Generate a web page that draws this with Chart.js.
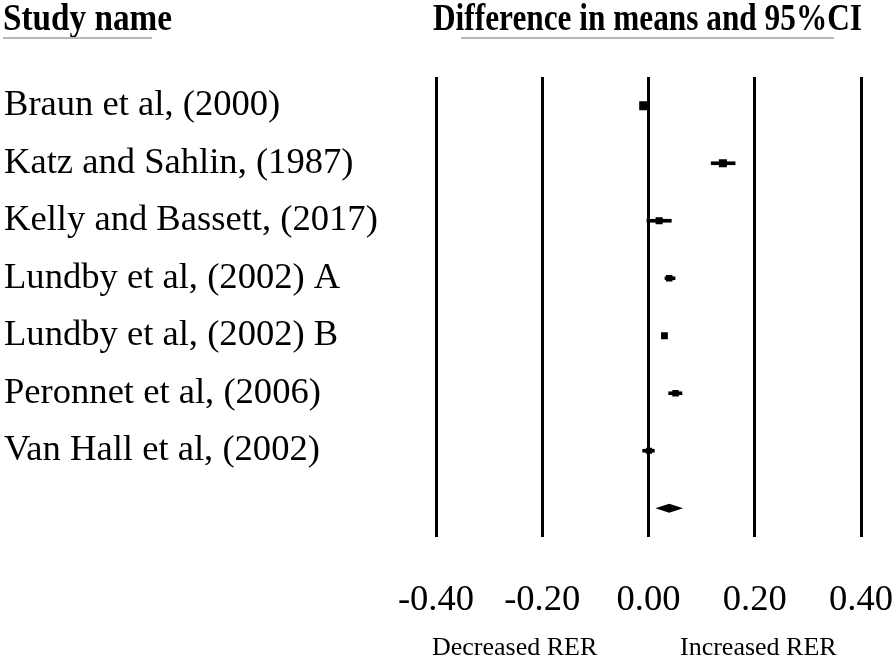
<!DOCTYPE html>
<html>
<head>
<meta charset="utf-8">
<script src="https://cdn.jsdelivr.net/npm/chart.js@4"></script>
<style>
  body { margin: 0; background: #fff; }
</style>
</head>
<body>
<canvas id="forest" width="896" height="662"></canvas>
<script>
"use strict";

// studies and effect sizes (difference in means, 95% CI)
const studies = ['Braun et al, (2000)', 'Katz and Sahlin, (1987)', 'Kelly and Bassett, (2017)',
                 'Lundby et al, (2002) A', 'Lundby et al, (2002) B', 'Peronnet et al, (2006)',
                 'Van Hall et al, (2002)'];
const means   = [-0.009, 0.140, 0.020, 0.039, 0.030, 0.051, 0.001];
const lower   = [-0.015, 0.118, -0.003, 0.031, 0.025, 0.038, -0.011];
const upper   = [-0.003, 0.163, 0.043, 0.050, 0.035, 0.063, 0.011];

// pooled estimate (diamond)
const pooledMean  = 0.039;
const pooledLower = 0.013;
const pooledUpper = 0.065;

const xTicks = [-0.40, -0.20, 0.00, 0.20, 0.40];

const rowLabels = studies.concat(['']);
const serif = '"Liberation Serif", "Times New Roman", serif';

// draws text squeezed to a given width (headings are condensed)
function fitText(ctx, text, x, y, width) {
    const w = ctx.measureText(text).width;
    ctx.save();
    ctx.translate(x, y);
    ctx.scale(width / w, 1);
    ctx.fillText(text, 0, 0);
    ctx.restore();
}

const decorations = {
    id: 'decorations',
    afterDatasetsDraw(chart) {
        const ctx = chart.ctx;
        const xs = chart.scales.x;
        const ys = chart.scales.y;

        // pooled diamond
        const yc = ys.getPixelForValue(studies.length);
        ctx.save();
        ctx.fillStyle = '#000';
        ctx.beginPath();
        ctx.moveTo(xs.getPixelForValue(pooledLower), yc);
        ctx.lineTo(xs.getPixelForValue(pooledMean), yc - 4.5);
        ctx.lineTo(xs.getPixelForValue(pooledUpper), yc);
        ctx.lineTo(xs.getPixelForValue(pooledMean), yc + 4.5);
        ctx.closePath();
        ctx.fill();
        ctx.restore();
    },
    afterDraw(chart) {
        const ctx = chart.ctx;
        ctx.save();
        ctx.fillStyle = '#000';
        ctx.textBaseline = 'alphabetic';
        ctx.textAlign = 'left';

        // headings
        ctx.font = 'bold 37px ' + serif;
        fitText(ctx, 'Study name', 3, 30, 169);
        fitText(ctx, 'Difference in means and 95%CI', 433, 30, 429);

        ctx.strokeStyle = '#b8b8b8';
        ctx.lineWidth = 2;
        ctx.beginPath();
        ctx.moveTo(3, 38);  ctx.lineTo(152, 38);
        ctx.moveTo(461, 38); ctx.lineTo(834, 38);
        ctx.stroke();

        // direction labels under the axis
        ctx.font = '26px ' + serif;
        ctx.fillText('Decreased RER', 432, 655);
        ctx.fillText('Increased RER', 680, 655);
        ctx.restore();
    }
};

new Chart(document.getElementById('forest'), {
    type: 'bar',
    data: {
        labels: rowLabels,
        datasets: [
            {
                // confidence intervals as thin floating bars
                type: 'bar',
                data: lower.map((l, i) => [l, upper[i]]),
                backgroundColor: '#000',
                barThickness: 3,
                borderWidth: 0
            },
            {
                type: 'scatter',
                data: means.map((m, i) => ({ x: m, y: studies[i] })),
                pointStyle: 'rect',
                pointRadius: [6.4, 5.7, 5, 4.6, 4.8, 4.6, 4.4],
                backgroundColor: '#000',
                borderWidth: 0
            }
        ]
    },
    options: {
        indexAxis: 'y',
        responsive: false,
        animation: false,
        events: [],
        layout: { padding: { top: 77, left: 4, right: 35, bottom: 0 } },
        plugins: {
            legend: { display: false },
            tooltip: { enabled: false }
        },
        scales: {
            x: {
                type: 'linear',
                position: 'bottom',
                min: xTicks[0],
                max: xTicks[xTicks.length - 1],
                afterBuildTicks: (scale) => { scale.ticks = xTicks.map(v => ({ value: v })); },
                afterFit: (scale) => {
                    scale.height = 125;
                    scale.paddingLeft = 0;
                    scale.paddingRight = 0;
                },
                grid: { color: '#000', lineWidth: 3, drawTicks: false },
                border: { display: false },
                ticks: {
                    padding: 41,
                    maxRotation: 0,
                    color: '#000',
                    font: { family: serif, size: 36.6 },
                    callback: (v) => (Math.abs(v) < 1e-9 ? 0 : v).toFixed(2)
                }
            },
            y: {
                type: 'category',
                offset: true,
                afterFit: (scale) => { scale.width = 432; },
                grid: { display: false },
                border: { display: false },
                ticks: {
                    autoSkip: false,
                    crossAlign: 'far',
                    padding: 0,
                    color: '#000',
                    font: { family: serif, size: 36.6 }
                }
            }
        }
    },
    plugins: [decorations]
});
</script>
</body>
</html>
